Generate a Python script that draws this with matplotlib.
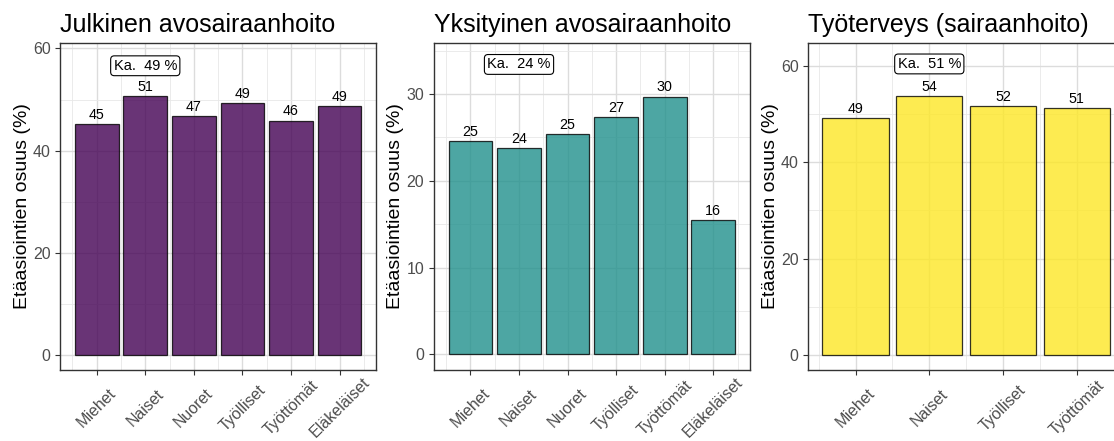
import matplotlib
matplotlib.use("Agg")
import matplotlib.pyplot as plt
import numpy as np

plt.rcParams['font.family'] = ['Liberation Sans', 'DejaVu Sans']

# data
titles = ['Julkinen avosairaanhoito', 'Yksityinen avosairaanhoito', 'Työterveys (sairaanhoito)']
cats_julk = ['Miehet', 'Naiset', 'Nuoret', 'Työlliset', 'Työttömät', 'Eläkeläiset']
vals_julk = [45.3, 50.6, 46.7, 49.4, 45.9, 48.8]
cats_yks = ['Miehet', 'Naiset', 'Nuoret', 'Työlliset', 'Työttömät', 'Eläkeläiset']
vals_yks = [24.6, 23.8, 25.4, 27.3, 29.7, 15.5]
cats_tt = ['Miehet', 'Naiset', 'Työlliset', 'Työttömät']
vals_tt = [49.1, 53.7, 51.7, 51.2]
averages = [49, 24, 51]
avg_y = [56.6, 33.4, 60.4]
colors = ['#440154', '#21908C', '#FDE725']

panels = [
    (cats_julk, vals_julk, (-2.75, 61.1), [0, 20, 40, 60], [10, 30, 50], (-0.75, 5.75)),
    (cats_yks, vals_yks, (-1.73, 35.9), [0, 10, 20, 30], [5, 15, 25, 35], (-0.75, 5.75)),
    (cats_tt, vals_tt, (-3.0, 64.8), [0, 20, 40, 60], [10, 30, 50], (-0.64, 3.64)),
]

fig = plt.figure(figsize=(11.14, 4.41), dpi=100)
lefts = [0.0541, 0.3896, 0.7256]

for i, (cats, vals, ylim, yt, ymin, xlim) in enumerate(panels):
    ax = fig.add_axes([lefts[i], 0.1621, 0.2834, 0.741])
    x = np.arange(len(cats))
    ax.set_axisbelow(True)
    ax.bar(x, vals, width=0.9, color=colors[i], alpha=0.8, edgecolor='black', linewidth=0.9, zorder=2)
    for xi, v in zip(x, vals):
        ax.annotate(f'{v:.0f}', (xi, v), xytext=(0, 1.5), textcoords='offset points',
                    ha='center', va='bottom', fontsize=10.3, color='black', zorder=3)
    ax.text(1, avg_y[i], f'Ka.  {averages[i]} %', ha='center', va='center', fontsize=10.5,
            bbox=dict(boxstyle='round,pad=0.2,rounding_size=0.25', fc='white', ec='black', lw=0.8), zorder=4)
    ax.set_xlim(*xlim)
    ax.set_ylim(*ylim)
    ax.set_xticks(x)
    ax.set_xticklabels(cats, rotation=45, ha='center', va='center', rotation_mode='anchor',
                       fontsize=11.5, color='#4d4d4d')
    ax.set_xticks(np.arange(-0.5, len(cats)), minor=True)
    ax.set_yticks(yt)
    ax.set_yticklabels([str(t) for t in yt], fontsize=11.5, color='#4d4d4d')
    ax.set_yticks(ymin, minor=True)
    ax.tick_params(which='major', length=3.5, width=0.8, color='#333333')
    ax.tick_params(axis='x', which='major', pad=24)
    ax.tick_params(which='minor', length=0)
    ax.grid(which='major', color='#dcdcdc', linewidth=1.0)
    ax.grid(which='minor', color='#e8e8e8', linewidth=0.6)
    for s in ax.spines.values():
        s.set_linewidth(1.0)
        s.set_color('#333333')
    ax.set_ylabel('Etäasiointien osuus (%)', fontsize=14, labelpad=1.5)
    ax.set_title(titles[i], loc='left', fontsize=18, pad=8)

fig.savefig('out.png', dpi=100)
